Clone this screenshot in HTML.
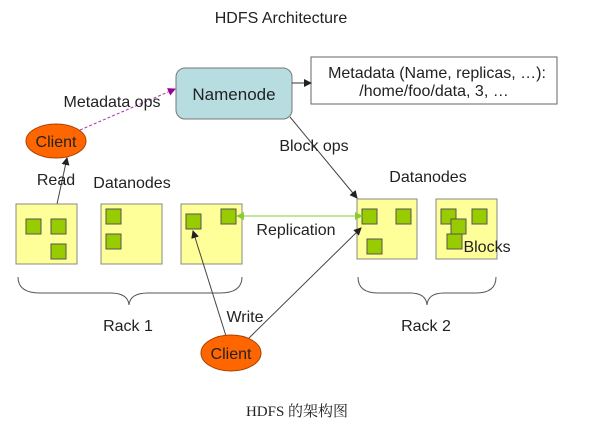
<!DOCTYPE html><html><head><style>body{margin:0;background:#fff}svg{display:block}text{font-family:"Liberation Sans",sans-serif;fill:#222}</style></head><body>
<svg width="595" height="429" viewBox="0 0 595 429">
<defs>
<marker id="a" markerWidth="8" markerHeight="8" refX="7" refY="4" orient="auto" markerUnits="userSpaceOnUse"><path d="M0,0 L8,4 L0,8z" fill="#222"/></marker>
<marker id="p" markerWidth="8" markerHeight="8" refX="7" refY="4" orient="auto" markerUnits="userSpaceOnUse"><path d="M0,0 L8,4 L0,8z" fill="#909"/></marker>
<marker id="g" markerWidth="8" markerHeight="8" refX="7" refY="4" orient="auto" markerUnits="userSpaceOnUse"><path d="M0,0 L8,4 L0,8z" fill="#8c3"/></marker>
</defs>
<text x="281" y="23" font-size="16" text-anchor="middle">HDFS Architecture</text>
<rect x="176" y="68" width="116" height="51" rx="9" fill="#b7dde0" stroke="#777"/>
<text x="234" y="100" font-size="17" text-anchor="middle">Namenode</text>
<rect x="311" y="57" width="246" height="47" fill="#fff" stroke="#666"/>
<text x="437" y="78" font-size="16" text-anchor="middle">Metadata (Name, replicas, …):</text>
<text x="434" y="96" font-size="16" text-anchor="middle">/home/foo/data, 3, …</text>
<line x1="292" y1="83" x2="311" y2="83" stroke="#333" marker-end="url(#a)"/>
<ellipse cx="56" cy="141" rx="30" ry="17" fill="#f60" stroke="#a40"/>
<text x="56" y="147" font-size="16" text-anchor="middle">Client</text>
<line x1="80" y1="130" x2="175" y2="89" stroke="#a3a" stroke-dasharray="3,2" marker-end="url(#p)"/>
<text x="112" y="107" font-size="16" text-anchor="middle">Metadata ops</text>
<line x1="57" y1="204" x2="67" y2="158" stroke="#444" marker-end="url(#a)"/>
<text x="56" y="185" font-size="16" text-anchor="middle">Read</text>
<text x="132" y="188" font-size="16" text-anchor="middle">Datanodes</text>
<text x="428" y="182" font-size="16" text-anchor="middle">Datanodes</text>
<line x1="290" y1="117" x2="357" y2="198" stroke="#444" marker-end="url(#a)"/>
<text x="314" y="151" font-size="16" text-anchor="middle">Block ops</text>
<g fill="#ffff99" stroke="#888">
<rect x="16" y="204" width="61" height="60"/><rect x="101" y="204" width="61" height="60"/><rect x="181" y="204" width="61" height="60"/>
<rect x="357" y="199" width="60" height="60"/><rect x="436" y="199" width="61" height="60"/>
</g>
<g fill="#9c0" stroke="#555">
<rect x="26" y="219" width="15" height="15"/><rect x="51" y="219" width="15" height="15"/><rect x="51" y="244" width="15" height="15"/>
<rect x="106" y="209" width="15" height="15"/><rect x="106" y="234" width="15" height="15"/>
<rect x="186" y="214" width="15" height="15"/><rect x="221" y="209" width="15" height="15"/>
<rect x="362" y="209" width="15" height="15"/><rect x="396" y="209" width="15" height="15"/><rect x="367" y="239" width="15" height="15"/>
<rect x="441" y="209" width="15" height="15"/><rect x="472" y="209" width="15" height="15"/><rect x="447" y="234" width="15" height="15"/><rect x="451" y="219" width="15" height="15"/>
</g>
<text x="487" y="252" font-size="16" text-anchor="middle">Blocks</text>
<line x1="242" y1="216" x2="362" y2="216" stroke="#8c3" marker-end="url(#g)"/>
<line x1="260" y1="216" x2="237" y2="216" stroke="#8c3" marker-end="url(#g)"/>
<text x="296" y="235" font-size="16" text-anchor="middle">Replication</text>
<path d="M18,277 Q18,293 40,293 L110,293 Q128,293 129,305 Q130,293 148,293 L220,293 Q242,293 242,277" fill="none" stroke="#555"/>
<path d="M358,277 Q358,293 378,293 L410,293 Q426,293 427,305 Q428,293 444,293 L476,293 Q496,293 496,277" fill="none" stroke="#555"/>
<text x="128" y="331" font-size="16" text-anchor="middle">Rack 1</text>
<text x="426" y="331" font-size="16" text-anchor="middle">Rack 2</text>
<line x1="226" y1="336" x2="193" y2="231" stroke="#444" marker-end="url(#a)"/>
<line x1="248" y1="339" x2="361" y2="228" stroke="#444" marker-end="url(#a)"/>
<text x="245" y="322" font-size="16" text-anchor="middle">Write</text>
<ellipse cx="231" cy="353" rx="30" ry="18" fill="#f60" stroke="#a40"/>
<text x="231" y="359" font-size="16" text-anchor="middle">Client</text>
<text x="297" y="416" font-size="15" text-anchor="middle" style="font-family:'Liberation Serif','Noto Serif CJK SC',serif">HDFS 的架构图</text>
</svg></body></html>
